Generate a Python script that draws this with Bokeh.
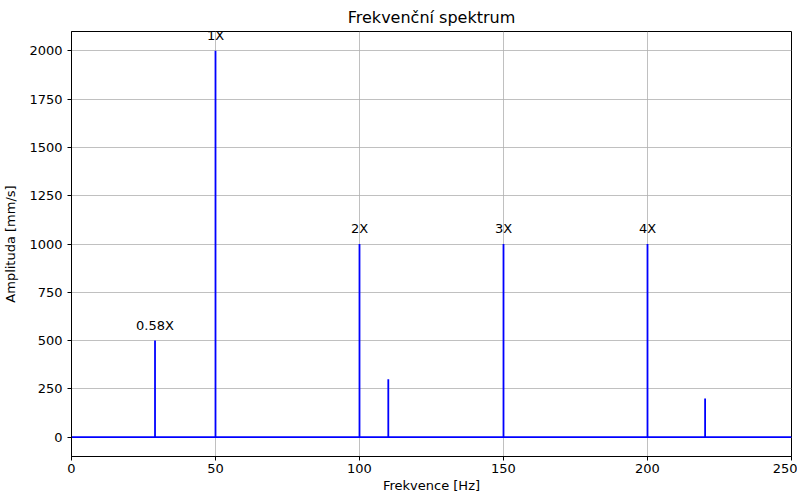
from bokeh.plotting import figure
from bokeh.models import Range1d, FixedTicker, ColumnDataSource
from bokeh.embed import file_html
from bokeh.resources import INLINE
from bokeh.core.properties import value

# Data
freq_range = [0, 250]
peak_freqs = [29, 50, 100, 110, 150, 200, 220]
peak_amps = [500, 2000, 1000, 300, 1000, 1000, 200]
label_freqs = [29, 50, 100, 150, 200]
label_amps = [500, 2000, 1000, 1000, 1000]
label_texts = ["0.58X", "1X", "2X", "3X", "4X"]
x_ticks = [0, 50, 100, 150, 200, 250]
y_ticks = [0, 250, 500, 750, 1000, 1250, 1500, 1750, 2000]

FONT = "DejaVu Sans"

p = figure(frame_width=720, frame_height=425, output_backend="svg", toolbar_location=None,
           x_range=Range1d(0, 250), y_range=Range1d(-100, 2100),
           title="Frekvenční spektrum")
p.min_border_left = 63
p.min_border_right = 6
p.min_border_top = 0
p.min_border_bottom = 0

p.title.align = "center"
p.title.text_font = FONT
p.title.text_font_size = "16px"
p.title.text_font_style = "normal"
p.title.text_color = "black"

p.background_fill_color = "white"
p.border_fill_color = "white"
p.outline_line_color = "black"
p.outline_line_width = 1

for ax in (p.xaxis, p.yaxis):
    ax.axis_line_color = "black"
    ax.major_tick_line_color = "black"
    ax.major_tick_out = 4
    ax.major_tick_in = 0
    ax.minor_tick_line_color = None
    ax.major_label_text_font = FONT
    ax.major_label_text_font_size = "13px"
    ax.major_label_text_color = "black"
    ax.axis_label_text_font = FONT
    ax.axis_label_text_font_size = "13px"
    ax.axis_label_text_font_style = "normal"
    ax.axis_label_text_color = "black"

p.xaxis.ticker = FixedTicker(ticks=x_ticks)
p.yaxis.ticker = FixedTicker(ticks=y_ticks)
p.xaxis.axis_label = "Frekvence [Hz]"
p.yaxis.axis_label = "Amplituda [mm/s]"
p.xaxis.major_label_standoff = 3
p.xaxis.axis_label_standoff = 2
p.yaxis.axis_label_standoff = 8

p.grid.grid_line_color = "#b0b0b0"
p.grid.grid_line_width = 0.8

# baseline of the spectrum
p.line(x=freq_range, y=[0, 0], line_color="blue", line_width=1.8)
# peaks
src = ColumnDataSource(dict(x=peak_freqs, y0=[0] * len(peak_freqs), y1=peak_amps))
p.segment(x0="x", y0="y0", x1="x", y1="y1", source=src, line_color="blue", line_width=1.8)

lsrc = ColumnDataSource(dict(x=label_freqs, y=[a + 50 for a in label_amps], t=label_texts))
p.text(x="x", y="y", text="t", source=lsrc, text_align="center", text_baseline="bottom",
       text_font=value(FONT), text_font_size="13px", text_color="black", y_offset=2)

open("out.html", "w").write(file_html(p, INLINE))
